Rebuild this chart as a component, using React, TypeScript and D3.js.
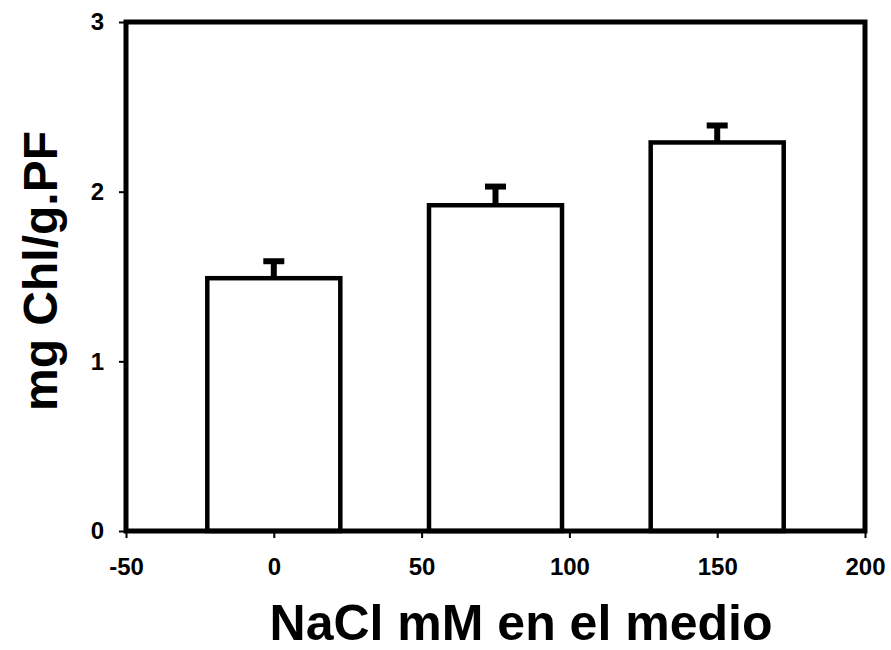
import React, { useEffect, useRef } from 'react';
import * as d3 from 'd3';

// NaCl concentration (mM) for each bar
const concentrations = [0, 75, 150];
// chlorophyll content, mg Chl / g fresh weight
const chlorophyll = [1.49, 1.92, 2.29];
const errors = [0.10, 0.11, 0.10];

const xTicks = [-50, 0, 50, 100, 150, 200];
const yTicks = [0, 1, 2, 3];

const App: React.FC = () => {
  const ref = useRef<SVGSVGElement>(null);

  useEffect(() => {
    if (!ref.current) return;

    const width = 891;
    const height = 650;
    const margin = { top: 22, right: 26, bottom: 119, left: 126 };
    const font = '"Liberation Sans", Arial, sans-serif';

    const svg = d3.select(ref.current);
    svg.selectAll('*').remove();

    const x = d3.scaleLinear().domain([-50, 200]).range([margin.left, width - margin.right]);
    const y = d3.scaleLinear().domain([0, 3]).range([height - margin.bottom, margin.top]);
    const barW = x(45) - x(0);

    // bars
    svg.selectAll('.bar')
      .data(concentrations)
      .enter()
      .append('rect')
      .attr('x', d => x(d) - barW / 2)
      .attr('y', (d, i) => y(chlorophyll[i]))
      .attr('width', barW)
      .attr('height', (d, i) => y(0) - y(chlorophyll[i]))
      .attr('fill', '#fff')
      .attr('stroke', '#000')
      .attr('stroke-width', 4.5);

    // error bars (upper only)
    const err = svg.selectAll('.err')
      .data(concentrations)
      .enter()
      .append('g');

    err.append('line')
      .attr('x1', d => x(d))
      .attr('x2', d => x(d))
      .attr('y1', (d, i) => y(chlorophyll[i]))
      .attr('y2', (d, i) => y(chlorophyll[i] + errors[i]))
      .attr('stroke', '#000')
      .attr('stroke-width', 6);

    err.append('line')
      .attr('x1', d => x(d) - 10.5)
      .attr('x2', d => x(d) + 10.5)
      .attr('y1', (d, i) => y(chlorophyll[i] + errors[i]))
      .attr('y2', (d, i) => y(chlorophyll[i] + errors[i]))
      .attr('stroke', '#000')
      .attr('stroke-width', 6);

    // frame
    svg.append('rect')
      .attr('x', x(-50))
      .attr('y', y(3))
      .attr('width', x(200) - x(-50))
      .attr('height', y(0) - y(3))
      .attr('fill', 'none')
      .attr('stroke', '#000')
      .attr('stroke-width', 5);

    // axes
    const xAxis = svg.append('g')
      .attr('transform', `translate(0,${y(0)})`)
      .call(d3.axisBottom(x).tickValues(xTicks).tickSize(7).tickPadding(20).tickFormat(d => String(d)));
    const yAxis = svg.append('g')
      .attr('transform', `translate(${x(-50)},0)`)
      .call(d3.axisLeft(y).tickValues(yTicks).tickSize(7).tickPadding(15).tickFormat(d => String(d)));

    [xAxis, yAxis].forEach(a => {
      a.select('.domain').remove();
      a.selectAll('.tick line').attr('stroke', '#000').attr('stroke-width', 2);
      a.selectAll('.tick text')
        .attr('fill', '#000')
        .attr('font-family', font)
        .attr('font-weight', 'bold')
        .attr('font-size', 24);
    });

    // axis titles
    svg.append('text')
      .attr('x', 521)
      .attr('y', 640)
      .attr('text-anchor', 'middle')
      .attr('font-family', font)
      .attr('font-weight', 'bold')
      .attr('font-size', 50)
      .text('NaCl mM en el medio');

    svg.append('text')
      .attr('transform', `translate(57,${271}) rotate(-90)`)
      .attr('text-anchor', 'middle')
      .attr('font-family', font)
      .attr('font-weight', 'bold')
      .attr('font-size', 48)
      .text('mg Chl/g.PF');
  }, []);

  return (
    <svg
      ref={ref}
      width={891}
      height={650}
      style={{ position: 'absolute', left: 0, top: 0, background: '#fff' }}
    />
  );
};

export default App;
